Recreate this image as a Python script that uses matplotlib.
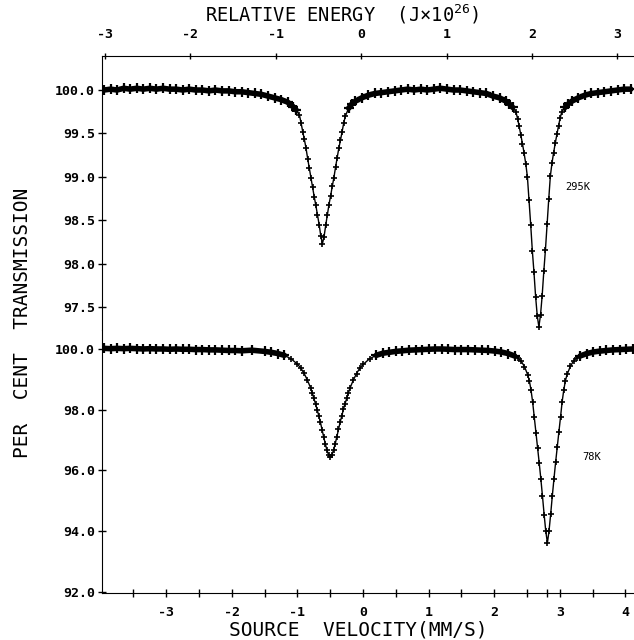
import matplotlib
matplotlib.use('Agg')
import matplotlib.pyplot as plt
import numpy as np
from matplotlib.ticker import FormatStrFormatter

# Mossbauer spectra
# source velocity (mm/s) and per cent transmission

v_295 = [-3.95, -3.85, -3.75, -3.65, -3.55, -3.45, -3.35, -3.25, -3.15, -3.05,
         -2.95, -2.85, -2.75, -2.65, -2.55, -2.45, -2.35, -2.25, -2.15, -2.05,
         -1.95, -1.85, -1.75, -1.65, -1.55, -1.45, -1.35, -1.25, -1.15, -1.07,
         -1.02, -0.97, -0.945, -0.92, -0.895, -0.87, -0.845, -0.82, -0.795, -0.77,
         -0.745, -0.72, -0.695, -0.67, -0.645, -0.62, -0.595, -0.57, -0.545, -0.52,
         -0.495, -0.47, -0.445, -0.42, -0.395, -0.37, -0.345, -0.32, -0.295, -0.27,
         -0.22, -0.17, -0.12, -0.02, 0.08, 0.18, 0.28, 0.38, 0.48, 0.58,
         0.68, 0.78, 0.88, 0.98, 1.08, 1.18, 1.28, 1.38, 1.48, 1.58,
         1.68, 1.78, 1.88, 1.98, 2.08, 2.18, 2.23, 2.28, 2.33, 2.355,
         2.38, 2.405, 2.43, 2.455, 2.48, 2.505, 2.53, 2.555, 2.58, 2.605,
         2.63, 2.655, 2.68, 2.705, 2.73, 2.755, 2.78, 2.805, 2.83, 2.855,
         2.88, 2.905, 2.93, 2.955, 2.98, 3.005, 3.03, 3.08, 3.13, 3.18,
         3.28, 3.38, 3.48, 3.58, 3.68, 3.78, 3.88, 3.98, 4.08]
t_295 = [100.00, 100.01, 100.00, 100.02, 100.01, 100.02, 100.01, 100.02, 100.01, 100.02,
         100.01, 100.01, 100.00, 100.01, 100.00, 100.00, 99.99, 100.00, 99.99, 99.99,
         99.98, 99.98, 99.97, 99.96, 99.95, 99.93, 99.91, 99.89, 99.86, 99.81,
         99.77, 99.71, 99.62, 99.52, 99.43, 99.33, 99.21, 99.10, 98.99, 98.88,
         98.77, 98.67, 98.56, 98.45, 98.32, 98.23, 98.31, 98.44, 98.56, 98.68,
         98.78, 98.89, 98.99, 99.11, 99.22, 99.33, 99.42, 99.52, 99.62, 99.70,
         99.79, 99.84, 99.87, 99.91, 99.94, 99.96, 99.97, 99.98, 99.99, 100.00,
         100.01, 100.00, 100.01, 100.00, 100.01, 100.02, 100.01, 100.00, 100.00, 99.99,
         99.98, 99.97, 99.96, 99.93, 99.91, 99.87, 99.84, 99.80, 99.75, 99.67,
         99.58, 99.48, 99.38, 99.27, 99.15, 99.00, 98.73, 98.45, 98.15, 97.90,
         97.62, 97.40, 97.27, 97.41, 97.63, 97.91, 98.16, 98.46, 98.74, 99.01,
         99.16, 99.28, 99.39, 99.49, 99.59, 99.68, 99.75, 99.80, 99.84, 99.87,
         99.91, 99.94, 99.96, 99.97, 99.98, 99.99, 100.00, 100.01, 100.01]

v_78 = [-3.95, -3.85, -3.75, -3.65, -3.55, -3.45, -3.35, -3.25, -3.15, -3.05,
        -2.95, -2.85, -2.75, -2.65, -2.55, -2.45, -2.35, -2.25, -2.15, -2.05,
        -1.95, -1.85, -1.70, -1.50, -1.40, -1.30, -1.20, -1.10, -1.00, -0.95,
        -0.90, -0.85, -0.80, -0.775, -0.75, -0.725, -0.70, -0.675, -0.65, -0.625,
        -0.60, -0.575, -0.55, -0.525, -0.50, -0.475, -0.45, -0.425, -0.40, -0.375,
        -0.35, -0.325, -0.30, -0.275, -0.25, -0.225, -0.20, -0.15, -0.10, -0.05,
        0.00, 0.10, 0.20, 0.30, 0.40, 0.50, 0.60, 0.70, 0.80, 0.90,
        1.00, 1.10, 1.20, 1.30, 1.40, 1.50, 1.60, 1.71, 1.81, 1.91,
        2.01, 2.11, 2.21, 2.31, 2.36, 2.41, 2.46, 2.51, 2.535, 2.56,
        2.585, 2.61, 2.635, 2.66, 2.685, 2.71, 2.735, 2.76, 2.785, 2.81,
        2.835, 2.86, 2.885, 2.91, 2.935, 2.96, 2.985, 3.01, 3.035, 3.06,
        3.085, 3.11, 3.16, 3.21, 3.26, 3.31, 3.41, 3.51, 3.61, 3.71,
        3.81, 3.91, 4.01, 4.11]
t_78 = [100.02, 100.01, 100.02, 100.01, 100.02, 100.01, 100.00, 100.01, 100.00, 100.00,
        99.99, 100.00, 99.99, 99.99, 99.98, 99.98, 99.97, 99.97, 99.96, 99.95,
        99.95, 99.94, 99.96, 99.92, 99.89, 99.85, 99.79, 99.68, 99.50, 99.37,
        99.20, 98.98, 98.72, 98.56, 98.38, 98.19, 98.00, 97.80, 97.58, 97.34,
        97.10, 96.87, 96.66, 96.51, 96.45, 96.52, 96.67, 96.88, 97.11, 97.35,
        97.59, 97.79, 98.01, 98.20, 98.37, 98.55, 98.71, 98.97, 99.19, 99.37,
        99.49, 99.68, 99.79, 99.86, 99.89, 99.92, 99.94, 99.96, 99.97, 99.98,
        99.99, 100.00, 100.00, 99.99, 99.98, 99.98, 99.98, 99.97, 99.96, 99.95,
        99.93, 99.90, 99.85, 99.77, 99.70, 99.60, 99.42, 99.15, 98.95, 98.65,
        98.25, 97.75, 97.25, 96.75, 96.25, 95.72, 95.15, 94.55, 94.00, 93.62,
        94.02, 94.57, 95.17, 95.73, 96.27, 96.77, 97.27, 97.76, 98.27, 98.66,
        98.96, 99.16, 99.43, 99.61, 99.71, 99.77, 99.85, 99.90, 99.93, 99.95,
        99.97, 99.98, 99.99, 100.00]

yticks_295 = [100.0, 99.5, 99.0, 98.5, 98.0, 97.5]
yticks_78 = [100.0, 98.0, 96.0, 94.0, 92.0]
vel_ticks = [-3, -2, -1, 0, 1, 2, 3, 4]
energy_ticks = [-3, -2, -1, 0, 1, 2, 3]

# Fe-57 14.4 keV: 1 mm/s is about 0.768e-26 J
E_PER_V = 0.768
V_ZERO = -0.03

plt.rcParams['font.family'] = 'DejaVu Sans Mono'
plt.rcParams['axes.unicode_minus'] = False
plt.rcParams['mathtext.fontset'] = 'custom'
plt.rcParams['mathtext.rm'] = 'DejaVu Sans Mono'
plt.rcParams['mathtext.it'] = 'DejaVu Sans Mono'
plt.rcParams['mathtext.bf'] = 'DejaVu Sans Mono:bold'

fig = plt.figure(figsize=(6.34, 6.40), dpi=100)
ax_hi = fig.add_axes([0.1609, 0.4844, 0.8391, 0.4281])
ax_lo = fig.add_axes([0.1609, 0.0734, 0.8391, 0.4110])

for ax, v, t in ((ax_hi, v_295, t_295), (ax_lo, v_78, t_78)):
    ax.plot(v, t, color='black', lw=1.0, marker='+', ms=5, mew=1.2)
    # the flat parts are a dense cloud of points: draw them as a rough band
    tb = np.array(t)
    band = np.where(tb > 99.75, tb, np.nan)
    ax.plot(v, band, color='black', lw=4, solid_capstyle='round')
    ax.plot(v, band, ls='none', marker='+', ms=7, mew=1.6, color='black')
    ax.set_xlim(-3.98, 4.13)
    ax.spines['right'].set_visible(False)
    ax.yaxis.set_major_formatter(FormatStrFormatter('%.1f'))
    ax.tick_params(axis='y', direction='inout', length=6, width=1,
                   labelsize=9.5, pad=2)
    for lab in ax.get_yticklabels():
        lab.set_fontweight('bold')

ax_hi.set_ylim(97.235, 100.392)
ax_hi.set_yticks(yticks_295)
ax_hi.spines['bottom'].set_visible(False)
ax_hi.spines['top'].set_visible(False)
ax_hi.set_xticks([])

ax_lo.set_ylim(91.967, 100.625)
ax_lo.set_yticks(yticks_78)
ax_lo.spines['top'].set_visible(False)
ax_lo.set_xticks(vel_ticks)
peak_v = v_78[t_78.index(min(t_78))]
ax_lo.set_xticks([x + 0.5 for x in range(-4, 4)] + [peak_v], minor=True)
ax_lo.xaxis.set_major_formatter(FormatStrFormatter('%d'))
ax_lo.tick_params(axis='x', which='both', direction='inout', length=6,
                  width=1, labelsize=9.5, pad=6)

sec = ax_hi.secondary_xaxis(
    'top',
    functions=(lambda v: E_PER_V * (v - V_ZERO), lambda e: e / E_PER_V + V_ZERO))
sec.set_xticks(energy_ticks)
sec.xaxis.set_major_formatter(FormatStrFormatter('%d'))
sec.tick_params(direction='inout', length=5, width=1, labelsize=9.5, pad=8)

for lab in ax_lo.get_xticklabels() + sec.get_xticklabels() + ax_hi.get_yticklabels() + ax_lo.get_yticklabels():
    lab.set_fontweight('bold')

fig.text(342 / 634, 1 - 14 / 640, r'RELATIVE ENERGY  (J×10$^{26}$)',
         ha='center', va='center', fontsize=13.5)
fig.text(358 / 634, 1 - 630 / 640, 'SOURCE  VELOCITY(MM/S)',
         ha='center', va='center', fontsize=14)
fig.text(23 / 634, 1 - 323 / 640, 'PER  CENT  TRANSMISSION',
         ha='center', va='center', rotation=90, fontsize=14)
fig.text(578 / 634, 1 - 187 / 640, '295K', ha='center', va='center', fontsize=7.5)
fig.text(592 / 634, 1 - 457 / 640, '78K', ha='center', va='center', fontsize=7.5)

fig.savefig('out.png', dpi=100)
